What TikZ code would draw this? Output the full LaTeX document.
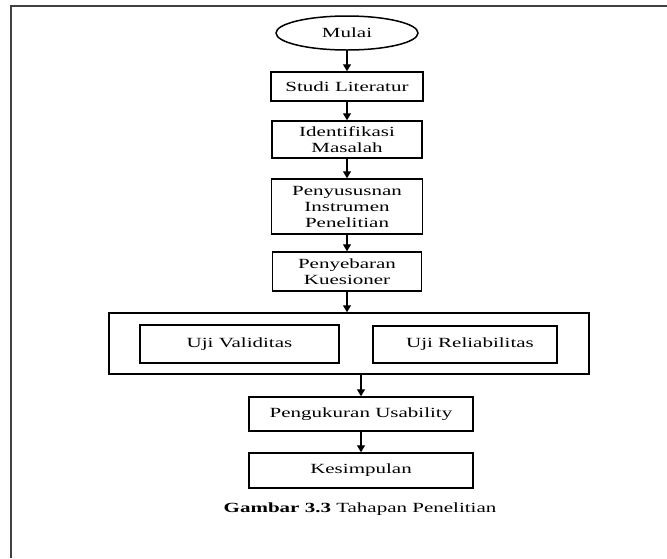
\documentclass[tikz,border=0pt]{standalone}
\usepackage{fontspec}
\setmainfont[FakeStretch=1.5]{Liberation Serif}
\usetikzlibrary{arrows.meta, shapes.geometric}

\begin{document}
\begin{tikzpicture}[x=1pt, y=-1pt,
    proses/.style={draw, line width=1.5pt, align=center, inner sep=0pt,
      font=\fontsize{14}{16}\selectfont},
    panah/.style={-{Triangle[length=7pt,width=8pt]}, line width=1.4pt}]
    \useasboundingbox (0,0) rectangle (667,558);

    % Bingkai halaman
    \draw[line width=1.8pt, black!75] (667,6) -- (11,6) -- (11,558);

    % Alur utama
    \node[proses, ellipse, minimum width=142pt, minimum height=34pt] (mulai) at (347,33) {Mulai};
    \node[proses, minimum width=152pt, minimum height=29pt] (studi) at (347,86.5) {Studi Literatur};
    \node[proses, minimum width=150pt, minimum height=37pt] (identifikasi) at (347,139.5) {Identifikasi\\Masalah};
    \node[proses, minimum width=151pt, minimum height=55pt] (instrumen) at (347,206.5) {Penyususnan\\Instrumen\\Penelitian};
    \node[proses, minimum width=149pt, minimum height=39pt] (penyebaran) at (347,271.5) {Penyebaran\\Kuesioner};

    % Uji validitas dan reliabilitas
    \node[proses, minimum width=480pt, minimum height=61pt] (uji) at (349,343.5) {};
    \node[proses, minimum width=199pt, minimum height=38pt] (validitas) at (239.5,344) {Uji Validitas};
    \node[proses, minimum width=184pt, minimum height=37pt] (reliabilitas) at (465,344.5) {\hspace{10pt}Uji Reliabilitas};

    \node[proses, minimum width=224pt, minimum height=34pt] (usability) at (361,414) {Pengukuran Usability};
    \node[proses, minimum width=224pt, minimum height=35pt] (kesimpulan) at (361,470.5) {Kesimpulan};

    \node[font=\fontsize{14}{16}\selectfont] (judul) at (360,509) {\textbf{Gambar 3.3} Tahapan Penelitian};

    % Panah
    \draw[panah] (mulai) -- (studi);
    \draw[panah] (studi) -- (identifikasi);
    \draw[panah] (identifikasi) -- (instrumen);
    \draw[panah] (instrumen) -- (penyebaran);
    \draw[panah] (penyebaran.south) -- (penyebaran.south |- uji.north);
    \draw[panah] (uji.south -| usability.north) -- (usability.north);
    \draw[panah] (usability) -- (kesimpulan);
\end{tikzpicture}
\end{document}
